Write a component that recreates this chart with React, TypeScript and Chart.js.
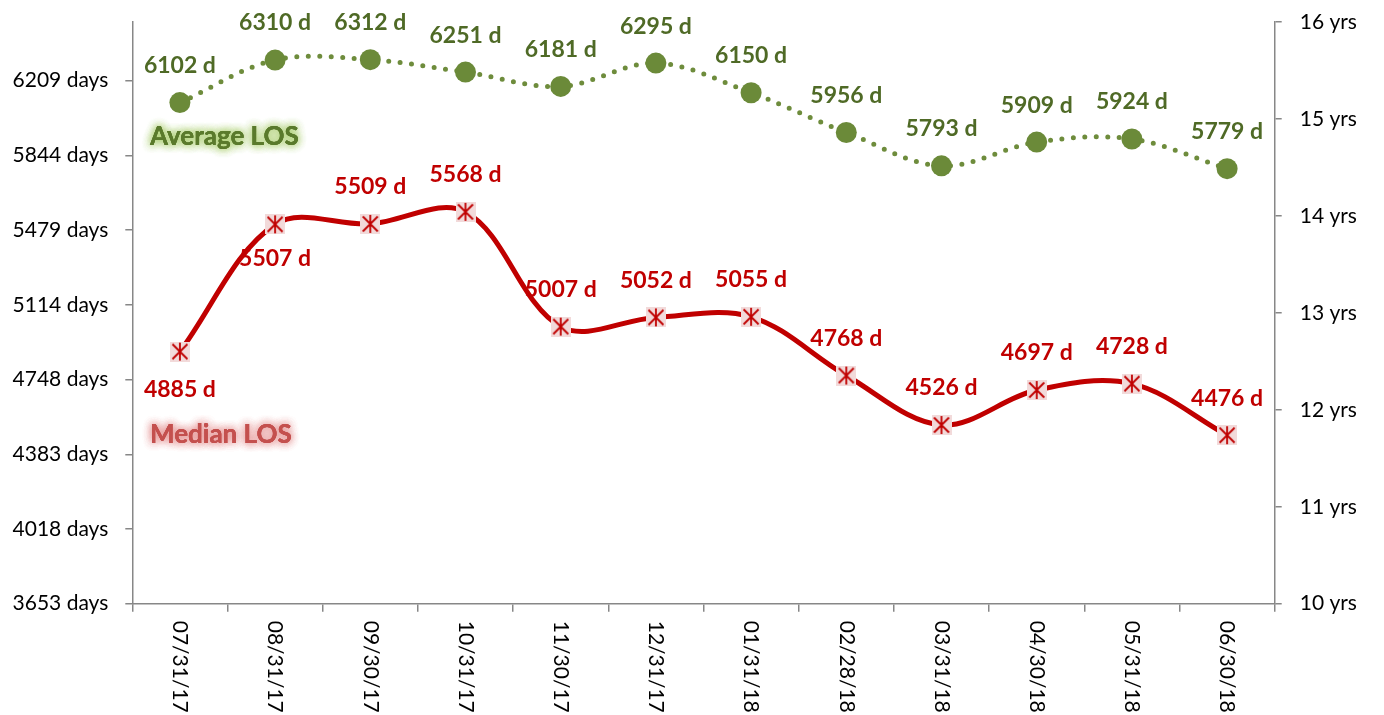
import React, { useEffect, useRef } from "react";
import { Chart, registerables } from "chart.js";

Chart.register(...registerables);

const categories = [
  "07/31/17", "08/31/17", "09/30/17", "10/31/17", "11/30/17", "12/31/17",
  "01/31/18", "02/28/18", "03/31/18", "04/30/18", "05/31/18", "06/30/18",
];
const averageLOS = [6102, 6310, 6312, 6251, 6181, 6295, 6150, 5956, 5793, 5909, 5924, 5779];
const medianLOS = [4885, 5507, 5509, 5568, 5007, 5052, 5055, 4768, 4526, 4697, 4728, 4476];
const leftTickValues = [3652.5, 4017.75, 4383, 4748.25, 5113.5, 5478.75, 5844, 6209.25];
const rightTickYears = [10, 11, 12, 13, 14, 15, 16];
const medianLabelsBelow = [0, 1];

const FONT = "Lato, 'Open Sans', sans-serif";
const AXIS_COLOR = "#878787";
const GREEN_MARK = "#6B8A39";
const GREEN_TEXT = "#4F6A26";
const RED = "#C00000";

function makeStarMarker(): HTMLCanvasElement {
  const s = 20;
  const c = document.createElement("canvas");
  c.width = s;
  c.height = s;
  const g = c.getContext("2d")!;
  g.fillStyle = "#F2DADA";
  g.fillRect(0, 0, s, s);
  g.strokeStyle = RED;
  g.lineWidth = 1.8;
  g.beginPath();
  g.moveTo(2.5, 2.5);
  g.lineTo(s - 2.5, s - 2.5);
  g.moveTo(s - 2.5, 2.5);
  g.lineTo(2.5, s - 2.5);
  g.moveTo(s / 2, 1);
  g.lineTo(s / 2, s - 1);
  g.stroke();
  return c;
}

const xLabelPlugin = {
  id: "xLabelsRotated",
  afterDraw(chart: any) {
    const { ctx, scales } = chart;
    const xs = scales.x;
    ctx.save();
    ctx.font = `21px ${FONT}`;
    ctx.fillStyle = "#000";
    ctx.textAlign = "left";
    ctx.textBaseline = "middle";
    categories.forEach((lab, i) => {
      const x = xs.getPixelForValue(i);
      ctx.save();
      ctx.translate(x, xs.top + 17);
      ctx.rotate(Math.PI / 2);
      ctx.fillText(lab, 0, 0);
      ctx.restore();
    });
    ctx.restore();
  },
};

const dataLabelPlugin = {
  id: "dataLabels",
  afterDatasetsDraw(chart: any) {
    const { ctx } = chart;
    ctx.save();
    ctx.font = `bold 23px ${FONT}`;
    ctx.textAlign = "center";
    ctx.textBaseline = "middle";
    chart.data.datasets.forEach((ds: any, di: number) => {
      const meta = chart.getDatasetMeta(di);
      ctx.fillStyle = di === 0 ? GREEN_TEXT : RED;
      meta.data.forEach((pt: any, i: number) => {
        const v = ds.data[i];
        let dy = -37;
        if (di === 1 && medianLabelsBelow.includes(i)) dy = i === 0 ? 38 : 34;
        ctx.fillText(`${v} d`, pt.x, pt.y + dy);
      });
    });
    ctx.restore();
  },
};

function glowText(ctx: CanvasRenderingContext2D, text: string, x: number, y: number, color: string, glow: string) {
  ctx.save();
  ctx.font = `bold 26px ${FONT}`;
  ctx.textAlign = "left";
  ctx.textBaseline = "middle";
  ctx.shadowColor = glow;
  ctx.shadowBlur = 9;
  ctx.fillStyle = color;
  for (let k = 0; k < 3; k++) ctx.fillText(text, x, y);
  ctx.shadowBlur = 0;
  ctx.shadowColor = "transparent";
  ctx.fillText(text, x, y);
  ctx.restore();
}

const seriesTitlePlugin = {
  id: "seriesTitles",
  afterDatasetsDraw(chart: any) {
    const { ctx } = chart;
    glowText(ctx, "Average LOS", 150, 137, "#5A7A2C", "rgba(170,205,110,0.9)");
    glowText(ctx, "Median LOS", 150, 435, "#C4504E", "rgba(230,150,150,0.9)");
  },
};

export default function App() {
  const ref = useRef<HTMLCanvasElement | null>(null);

  useEffect(() => {
    if (!ref.current) return;
    const marker = makeStarMarker();
    const chart = new Chart(ref.current, {
      type: "line",
      data: {
        labels: categories,
        datasets: [
          {
            label: "Average LOS",
            data: averageLOS,
            yAxisID: "y",
            borderColor: "#6E8C3C",
            borderWidth: 5,
            borderDash: [0, 11.5],
            borderCapStyle: "round",
            tension: 0.35,
            pointRadius: 10.5,
            pointHoverRadius: 10.5,
            pointBackgroundColor: GREEN_MARK,
            pointBorderWidth: 0,
          } as any,
          {
            label: "Median LOS",
            data: medianLOS,
            yAxisID: "y",
            borderColor: RED,
            borderWidth: 5,
            tension: 0.35,
            pointStyle: marker,
            pointRadius: 10,
            pointBorderWidth: 0,
          } as any,
        ],
      },
      options: {
        responsive: false,
        animation: false,
        events: [],
        layout: { padding: { top: 22, left: 0, right: 0, bottom: 0 } },
        plugins: {
          legend: { display: false },
          tooltip: { enabled: false },
        },
        scales: {
          x: {
            type: "category",
            offset: true,
            grid: {
              offset: true,
              drawOnChartArea: false,
              drawTicks: true,
              tickLength: 8,
              color: AXIS_COLOR,
              lineWidth: 1.5,
            },
            border: { display: true, color: AXIS_COLOR, width: 1.5 },
            ticks: { display: false },
            afterFit(scale: any) {
              scale.height = 111.3;
              scale.paddingLeft = 0;
              scale.paddingRight = 0;
            },
          },
          y: {
            position: "left",
            min: 3652.5,
            max: 6496,
            afterBuildTicks(scale: any) {
              scale.ticks = leftTickValues.map((v) => ({ value: v }));
            },
            ticks: {
              callback: (v: any) => `${Math.round(Number(v))} days`,
              font: { family: FONT, size: 21 },
              color: "#000",
              padding: 17,
            },
            grid: {
              drawOnChartArea: false,
              drawTicks: true,
              tickLength: 7,
              color: AXIS_COLOR,
              lineWidth: 1.5,
            },
            border: { display: true, color: AXIS_COLOR, width: 1.5 },
            afterFit(scale: any) {
              scale.width = 132.3;
              scale.paddingTop = 0;
              scale.paddingBottom = 0;
            },
          },
          y2: {
            position: "right",
            min: 10,
            max: 16,
            afterBuildTicks(scale: any) {
              scale.ticks = rightTickYears.map((v) => ({ value: v }));
            },
            ticks: {
              callback: (v: any) => `${v} yrs`,
              font: { family: FONT, size: 21 },
              color: "#000",
              padding: 18,
            },
            grid: {
              drawOnChartArea: false,
              drawTicks: true,
              tickLength: 7,
              color: AXIS_COLOR,
              lineWidth: 1.5,
            },
            border: { display: true, color: AXIS_COLOR, width: 1.5 },
            afterFit(scale: any) {
              scale.width = 109.3;
              scale.paddingTop = 0;
              scale.paddingBottom = 0;
            },
          },
        },
      } as any,
      plugins: [xLabelPlugin, dataLabelPlugin, seriesTitlePlugin],
    });
    return () => chart.destroy();
  }, []);

  return (
    <div style={{ position: "fixed", left: 0, top: 0, width: 1384, height: 715, background: "#fff" }}>
      <canvas ref={ref} width={1384} height={715} style={{ display: "block" }} />
    </div>
  );
}
